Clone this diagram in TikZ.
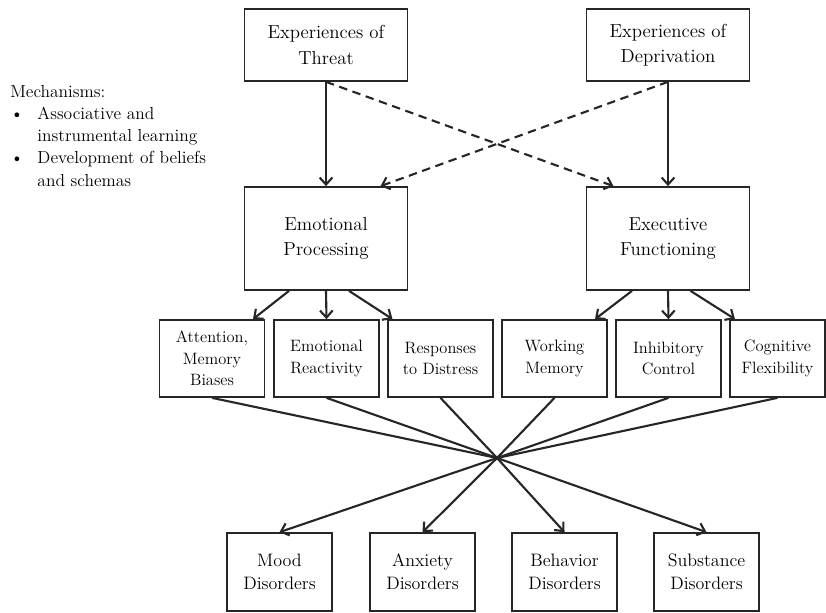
\documentclass[tikz,border=0pt]{standalone}
\usepackage{tikz}
\usetikzlibrary{arrows.meta}
\usetikzlibrary{calc}
\tikzstyle{topbox}=[draw=black!85,line width=1.2pt,align=center,minimum width=4.075cm,minimum height=1.8cm,inner sep=2pt,font=\fontsize{13.4}{18}\selectfont]
\tikzstyle{midbox}=[topbox,minimum height=2.575cm]
\tikzstyle{smallbox}=[draw=black!85,line width=1.2pt,align=center,minimum width=2.625cm,minimum height=1.925cm,inner sep=1pt,font=\fontsize{11.7}{15.2}\selectfont]
\tikzstyle{disbox}=[smallbox,minimum height=1.95cm,font=\fontsize{12.8}{16.4}\selectfont]
\tikzstyle{link}=[->,line width=1.5pt,draw=black!85]

\begin{document}
\begin{tikzpicture}[x=0.025cm,y=-0.025cm,>={Straight Barb[length=5pt,width=9pt]}]

   \fill[white] (0,0) rectangle (826,612);
   \useasboundingbox (0,0) rectangle (826,612);

  % exposures and the two processes
  \node[topbox] (threat) at (326,45) {Experiences of\\Threat};
  \node[topbox] (depriv) at (668,45) {Experiences of\\Deprivation};
  \node[midbox] (emo) at (326,238.5) {Emotional\\Processing};
  \node[midbox] (exec) at (668,238.5) {Executive\\Functioning};

  \node[anchor=north west,inner sep=0pt,font=\fontsize{12.4}{15.8}\selectfont] (mech) at (10,81.5) {%
    \begin{tabular}{@{}p{0.68cm}@{}l@{}}
    \multicolumn{2}{@{}l}{Mechanisms:}\\
    \textbullet & Associative and\\
     & instrumental learning\\
    \textbullet & Development of beliefs\\
     & and schemas
    \end{tabular}};

    \foreach \x/\w/\name/\txt in {212/2.625/att/{Attention,\\Memory\\Biases}, 326.5/2.625/react/{Emotional\\Reactivity}, 440.5/2.625/resp/{Responses\\to Distress}, 554.5/2.625/wm/{Working\\Memory}, 668.5/2.625/inhib/{Inhibitory\\Control}, 777.5/2.375/cogn/{Cognitive\\Flexibility}}
        \node[smallbox,minimum width=\w cm] (\name) at (\x,358.5) {\txt};

    \foreach \x/\name/\txt in {279.5/mood/Mood, 422.5/anx/Anxiety, 564.5/behav/Behavior, 706.5/subst/Substance}
        \node[disbox] (\name) at (\x,572) {\txt\\Disorders};

  \coordinate (hub) at (497,458);

\draw[link] (threat) -- (emo);
\draw[link] (depriv) -- (exec);
\draw[link,dash pattern=on 6pt off 4pt] (threat.south) -- ($(exec.north)+(-54.5,0)$);
\draw[link,dash pattern=on 6pt off 4pt] (depriv.south) -- ($(emo.north)+(54.5,0)$);

    \foreach \source/\sx/\dest/\dx in {emo/-37/att/41, emo/0/react/0, emo/23/resp/-48, exec/-36/wm/40.5, exec/0/inhib/0, exec/22.5/cogn/-42.5}
                \draw[link] ($(\source.south)+(\sx,0)$) -- ($(\dest.north)+(\dx,0)$);

    \foreach \source in {att, react, resp, wm, inhib, cogn}
                \draw[link,-] (\source.south) -- (hub);
    \foreach \dest in {mood, anx, behav, subst}
                \draw[link] (hub) -- (\dest.north);

\end{tikzpicture}
\end{document}
